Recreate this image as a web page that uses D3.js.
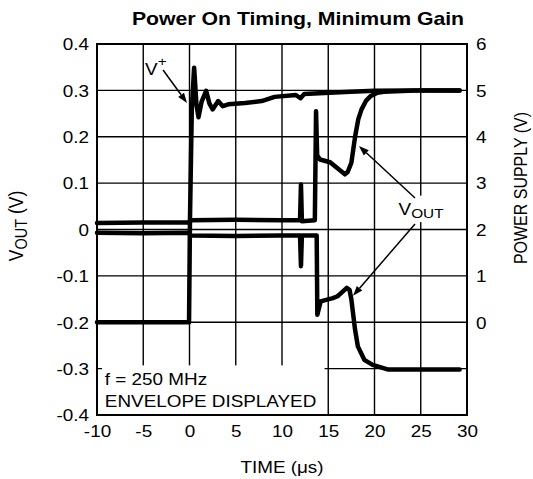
<!DOCTYPE html>
<html><head><meta charset="utf-8">
<script src="https://cdn.jsdelivr.net/npm/d3@7"></script>
<style>
html,body{margin:0;padding:0;background:#fff;}
text{font-family:"Liberation Sans",Arial,sans-serif;fill:#000;}
</style></head>
<body><svg id="c" width="533" height="479"></svg>
<script>
// ---- data ----
const xTicks = [-10,-5,0,5,10,15,20,25,30];
const yTicks = [-0.4,-0.3,-0.2,-0.1,0,0.1,0.2,0.3,0.4];
const yTickLabels = ["-0.4","-0.3","-0.2","-0.1","0","0.1","0.2","0.3","0.4"];
const supplyTicks = [0,1,2,3,4,5,6];
// power supply V+ (time us, volts)
const supplyT = [-10,-5,-0.05,0.05,0.25,0.5,0.75,0.97,1.3,1.8,2.15,2.5,3.1,3.6,4.2,6,7.8,9.2,11.5,12,12.4,14,17.4,20,24,29.2];
const supplyV = [0,0,0,2.2,4.6,5.49,4.7,4.42,4.75,4.99,4.72,4.59,4.77,4.66,4.7,4.73,4.77,4.86,4.9,4.83,4.92,4.94,4.97,4.99,5.0,5.0];
// VOUT envelope, upper edge
const upperT = [-10,-5,-0.1,0.1,5,10,11.95,12.05,12.15,13.55,13.68,13.8,14.1,15.2,16,16.8,17.1,17.5,17.9,18.25,18.6,19.1,19.6,20.3,21,25,29.2];
const upperV = [0.014,0.015,0.015,0.02,0.021,0.02,0.02,0.097,0.018,0.02,0.255,0.16,0.151,0.145,0.132,0.119,0.124,0.144,0.2,0.238,0.259,0.278,0.288,0.295,0.297,0.3,0.3];
// VOUT envelope, lower edge
const lowerT = [-10,-5,-0.1,0.1,5,10,11.95,12.05,12.15,13.75,13.82,14.18,15.5,16,16.5,17.0,17.3,17.5,17.9,18.2,18.9,19.8,21.5,25,29.2];
const lowerV = [-0.007,-0.008,-0.007,-0.013,-0.014,-0.013,-0.013,-0.079,-0.013,-0.013,-0.184,-0.155,-0.148,-0.144,-0.135,-0.126,-0.13,-0.151,-0.216,-0.252,-0.281,-0.292,-0.302,-0.302,-0.302];

// ---- layout ----
const SX = 1.18;
const svg = d3.select("#c");
const x = d3.scaleLinear().domain([-10,30]).range([97,467]);
const y = d3.scaleLinear().domain([-0.4,0.4]).range([415,44]);
const ys = d3.scaleLinear().domain([-2,6]).range([415,44]);

function htext(px, py, str, size, anchor, weight){
  const g = svg.append("g").attr("transform",`translate(${px},${py}) scale(${SX},1)`);
  const t = g.append("text").attr("font-size",size).attr("text-anchor",anchor||"start");
  if(weight) t.attr("font-weight",weight);
  if(str!==null) t.text(str);
  return t;
}

// grid
const grid = svg.append("g").attr("stroke","#000").attr("stroke-width",1.4);
grid.selectAll("line.v").data(xTicks.slice(1,-1)).join("line")
  .attr("x1",d=>x(d)).attr("x2",d=>x(d)).attr("y1",y(0.4)).attr("y2",y(-0.4));
grid.selectAll("line.h").data(yTicks.slice(1,-1)).join("line")
  .attr("y1",d=>y(d)).attr("y2",d=>y(d)).attr("x1",x(-10)).attr("x2",x(30));

// white boxes behind annotations
svg.append("rect").attr("x",x(-9.45)).attr("y",y(-0.293)).attr("width",x(14.6)-x(-9.45)).attr("height",y(-0.398)-y(-0.293)).attr("fill","#fff");
svg.append("rect").attr("x",x(22.3)).attr("y",y(0.073)).attr("width",x(27.7)-x(22.3)).attr("height",y(0.016)-y(0.073)).attr("fill","#fff");

// traces
const line = d3.line().x(d=>x(d[0])).y(d=>d[1]);
function trace(T, V, yscale){
  svg.append("path").datum(T.map((t,i)=>[t, yscale(V[i])])).attr("d",line)
    .attr("fill","none").attr("stroke","#000").attr("stroke-width",4.5)
    .attr("stroke-linejoin","round").attr("stroke-linecap","round");
}
trace(lowerT, lowerV, y);
trace(upperT, upperV, y);
trace(supplyT, supplyV, ys);

// border
svg.append("rect").attr("x",x(-10)).attr("y",y(0.4)).attr("width",x(30)-x(-10)).attr("height",y(-0.4)-y(0.4))
  .attr("fill","none").attr("stroke","#000").attr("stroke-width",2);

// axes labels
const left = svg.append("g").attr("transform",`translate(${x(-10)},0)`)
  .call(d3.axisLeft(y).tickValues(yTicks).tickSize(0).tickFormat((d,i)=>yTickLabels[i]));
left.select(".domain").remove();
left.selectAll("text").attr("font-size",16).attr("font-family",null).attr("x",-8/SX).attr("dy","0.36em")
  .attr("transform",`scale(${SX},1)`);
const bottom = svg.append("g").attr("transform",`translate(0,${y(-0.4)})`)
  .call(d3.axisBottom(x).tickValues(xTicks).tickSize(0).tickFormat(d=>String(d)));
bottom.select(".domain").remove();
bottom.selectAll("text").attr("font-size",16).attr("font-family",null).attr("y",22).attr("dy","0")
  .attr("transform",`scale(${SX},1)`);
const right = svg.append("g").attr("transform",`translate(${x(30)},0)`)
  .call(d3.axisRight(ys).tickValues(supplyTicks).tickSize(0).tickFormat(d=>String(d)));
right.select(".domain").remove();
right.selectAll("text").attr("font-size",16).attr("font-family",null).attr("x",9/SX).attr("dy","0.36em")
  .attr("transform",`scale(${SX},1)`);
svg.selectAll(".tick line").remove();

// titles
htext(298, 25, "Power On Timing, Minimum Gain", 18, "middle", "bold");
htext(282, 473, null, 16, "middle").text("TIME (\u03bcs)");
{
  const g = svg.append("g").attr("transform",`translate(23,226) rotate(-90) scale(1,${SX})`);
  const t = g.append("text").attr("font-size",17.5).attr("text-anchor","middle");
  t.append("tspan").text("V");
  t.append("tspan").attr("font-size",14.5).attr("dy",3).text("OUT");
  t.append("tspan").attr("dy",-3).text(" (V)");
}
{
  const g = svg.append("g").attr("transform",`translate(527,188) rotate(-90) scale(1,${SX})`);
  g.append("text").attr("font-size",16).attr("text-anchor","middle").text("POWER SUPPLY (V)");
}

// annotations
htext(x(-9.15), y(-0.335), "f = 250 MHz", 16);
htext(x(-9.15), y(-0.382), "ENVELOPE DISPLAYED", 16);
{
  const t = htext(x(-4.8), y(0.333), null, 16);
  t.append("tspan").text("V");
  t.append("tspan").attr("font-size",13).attr("dy",-9).text("+");
}
{
  const t = htext(x(22.6), y(0.032), null, 16);
  t.append("tspan").text("V");
  t.append("tspan").attr("font-size",13).attr("dy",3).text("OUT");
}
function arrow(t0,v0,t1,v1){
  const x0=x(t0), y0=y(v0), x1=x(t1), y1=y(v1);
  const a=Math.atan2(y1-y0,x1-x0), L=10, W=3.6;
  const bx=x1-L*Math.cos(a), by=y1-L*Math.sin(a);
  svg.append("line").attr("x1",x0).attr("y1",y0).attr("x2",bx).attr("y2",by).attr("stroke","#000").attr("stroke-width",1.5);
  svg.append("path").attr("d",`M${x1},${y1}L${bx-W*Math.sin(a)},${by+W*Math.cos(a)}L${bx+W*Math.sin(a)},${by-W*Math.cos(a)}Z`).attr("fill","#000");
}
arrow(-2.86,0.344,-0.27,0.273);
arrow(24.38,0.068,18.32,0.18);
arrow(24.38,0.012,17.68,-0.143);
</script></body></html>
